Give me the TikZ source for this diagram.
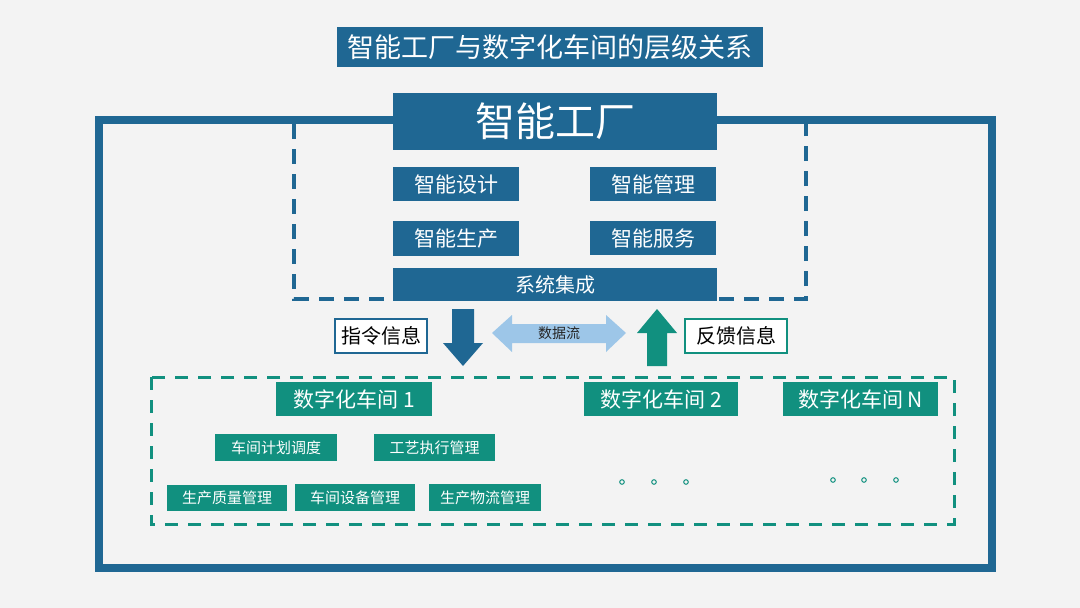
\documentclass[tikz,border=0pt]{standalone}
\usepackage{fontspec}
\newfontfamily\cjk{Noto Sans CJK SC}
\definecolor{bg}{HTML}{F3F3F3}
\definecolor{dblue}{HTML}{1F6793}
\definecolor{teal}{HTML}{11907F}
\definecolor{lblue}{HTML}{9DC6E8}
\tikzset{
  bluebox/.style={fill=dblue, text=white, inner sep=0pt, anchor=north west, font=\cjk},
  tealbox/.style={fill=teal, text=white, inner sep=0pt, anchor=north west, font=\cjk},
  labbox/.style={fill=white, text=black, line width=2pt, inner sep=0pt, anchor=north west, font=\cjk\fontsize{20}{22}\selectfont},
  ring/.style={draw=teal, line width=1pt, fill=none}
}
\begin{document}
\begin{tikzpicture}[x=1pt,y=-1pt]
\useasboundingbox (0,0) rectangle (1080,608);
\fill[bg] (0,0) rectangle (1080,608);
% title
\node[bluebox, minimum width=426pt, minimum height=40pt, font=\cjk\fontsize{27}{30}\selectfont] (title) at (337,27) {智能工厂与数字化车间的层级关系};
% dashed blue rectangle (top hidden)
\draw[dblue, line width=3.5pt, dash pattern=on 15pt off 10pt] (294,124) -- (294,299) -- (806,299) -- (806,124);
% outer frame
\draw[dblue, line width=8pt] (99,120) rectangle (992,568);
% factory
\node[bluebox, minimum width=324pt, minimum height=57pt, font=\cjk\fontsize{40}{44}\selectfont] (factory) at (393,93) {智能工厂};
\node[bluebox, minimum width=126pt, minimum height=34pt, font=\cjk\fontsize{21}{24}\selectfont] (design) at (393,167) {智能设计};
\node[bluebox, minimum width=126pt, minimum height=34pt, font=\cjk\fontsize{21}{24}\selectfont] (manage) at (590,167) {智能管理};
\node[bluebox, minimum width=126pt, minimum height=35pt, font=\cjk\fontsize{21}{24}\selectfont] (produce) at (393,221) {智能生产};
\node[bluebox, minimum width=126pt, minimum height=34pt, font=\cjk\fontsize{21}{24}\selectfont] (service) at (590,221) {智能服务};
\node[bluebox, minimum width=324pt, minimum height=33pt, font=\cjk\fontsize{20}{22}\selectfont] (integ) at (393,268) {系统集成};
% labels and arrows
\node[labbox, draw=dblue, minimum width=92pt, minimum height=34pt] (cmd) at (334,318) {指令信息};
\node[labbox, draw=teal, minimum width=102pt, minimum height=34pt] (fb) at (684,318) {反馈信息};
\fill[dblue] (452,309) -- (474,309) -- (474,343) -- (483,343) -- (463,366) -- (443,343) -- (452,343) -- cycle;
\fill[teal] (657,309) -- (677,333) -- (667,333) -- (667,366) -- (647,366) -- (647,333) -- (637,333) -- cycle;
\fill[lblue] (492,333) -- (512,315) -- (512,324) -- (606,324) -- (606,315) -- (626,333) -- (606,352) -- (606,343) -- (512,343) -- (512,352) -- cycle;
\node[text=black!85, font=\cjk\fontsize{14}{16}\selectfont] (flow) at (559,333) {数据流};
% teal dashed rectangle
\draw[teal, line width=3pt, dash pattern=on 13pt off 10pt] (151,377) rectangle (954,524);
\node[tealbox, minimum width=156pt, minimum height=34pt, font=\cjk\fontsize{21}{24}\selectfont] (ws1) at (276,382) {数字化车间 1};
\node[tealbox, minimum width=154pt, minimum height=34pt, font=\cjk\fontsize{21}{24}\selectfont] (ws2) at (584,382) {数字化车间 2};
\node[tealbox, minimum width=155pt, minimum height=34pt, font=\cjk\fontsize{21}{24}\selectfont] (wsn) at (783,382) {数字化车间 N};
\node[tealbox, minimum width=122pt, minimum height=27pt, font=\cjk\fontsize{15}{17}\selectfont] (plan) at (215,434) {车间计划调度};
\node[tealbox, minimum width=121pt, minimum height=27pt, font=\cjk\fontsize{15}{17}\selectfont] (proc) at (374,434) {工艺执行管理};
\node[tealbox, minimum width=120pt, minimum height=26pt, font=\cjk\fontsize{15}{17}\selectfont] (qual) at (167,485) {生产质量管理};
\node[tealbox, minimum width=120pt, minimum height=27pt, font=\cjk\fontsize{15}{17}\selectfont] (equip) at (295,484) {车间设备管理};
\node[tealbox, minimum width=112pt, minimum height=27pt, font=\cjk\fontsize{15}{17}\selectfont] (logi) at (429,484) {生产物流管理};
% dots
\foreach \x in {622,654,686} \draw[ring] (\x,482) circle (2.3pt);
\foreach \x in {833,864,896} \draw[ring] (\x,480) circle (2.3pt);
\end{tikzpicture}
\end{document}
